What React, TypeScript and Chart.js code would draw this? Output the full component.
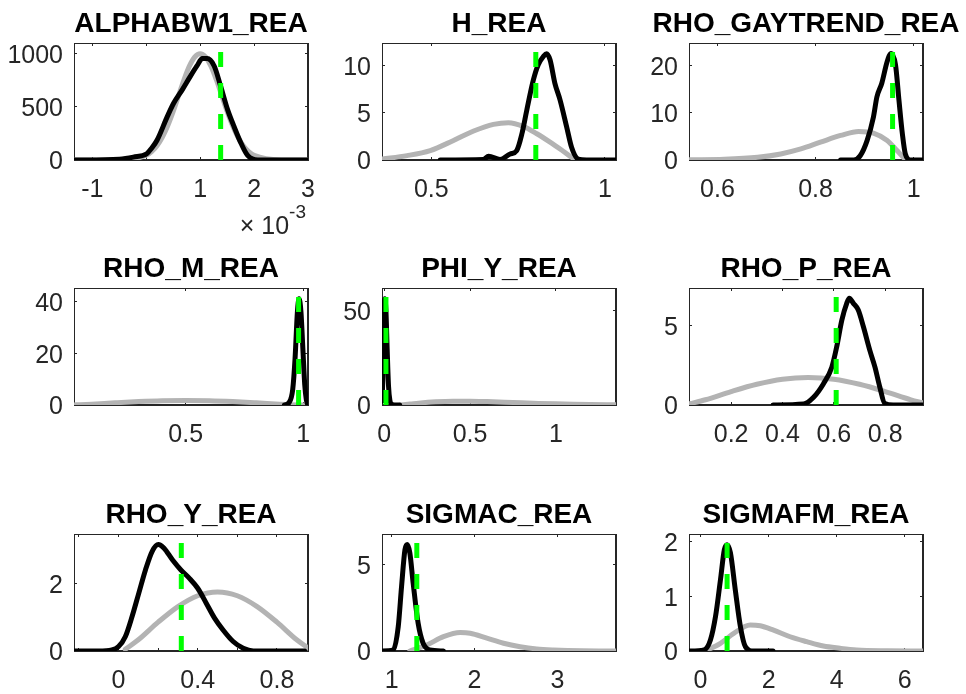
import React, { useEffect, useRef } from "react";
import { Chart, registerables } from "chart.js";

Chart.register(...registerables);

const FONT = '"Liberation Sans", Arial, Helvetica, sans-serif';

const panelTitles = [
  "ALPHABW1_REA", "H_REA", "RHO_GAYTREND_REA",
  "RHO_M_REA", "PHI_Y_REA", "RHO_P_REA",
  "RHO_Y_REA", "SIGMAC_REA", "SIGMAFM_REA",
];

// ALPHABW1_REA (x in units of 1e-3)
const alphaPriorX = [-1.34, -0.5, 0, 0.1, 0.2, 0.3, 0.4, 0.5, 0.6, 0.7, 0.8, 0.9, 1.0, 1.1, 1.2, 1.3, 1.4, 1.5, 1.6, 1.7, 1.8, 1.9, 2.0, 2.5, 3.0];
const alphaPriorY = [0, 1, 44, 79, 134, 215, 323, 455, 604, 751, 878, 964, 995, 964, 878, 751, 604, 455, 323, 215, 134, 79, 44, 1, 0];
const alphaPostX = [-1.34, -0.5, -0.24, 0.01, 0.1, 0.2, 0.39, 0.51, 0.67, 0.82, 0.94, 1.04, 1.13, 1.26, 1.38, 1.51, 1.63, 1.76, 1.88, 2.07, 2.2, 3.0];
const alphaPostY = [0, 8, 27, 59, 110, 185, 406, 533, 659, 785, 880, 950, 950, 880, 690, 469, 311, 154, 43, 0, 0, 0];

// H_REA
const hPriorX = [0.358, 0.43, 0.497, 0.564, 0.622, 0.679, 0.722, 0.765, 0.804, 0.842, 0.88, 0.908, 0.925];
const hPriorY = [0.1, 0.46, 1.0, 2.07, 3.07, 3.78, 3.96, 3.57, 2.78, 1.89, 0.93, 0.2, 0];
const hPostX = [0.526, 0.65, 0.665, 0.698, 0.727, 0.746, 0.761, 0.775, 0.794, 0.808, 0.823, 0.832, 0.842, 0.856, 0.871, 0.89, 0.904, 0.923, 0.947, 1.032];
const hPostY = [0, 0.05, 0.4, 0.05, 0.64, 1.0, 2.78, 5.28, 8.48, 10.09, 10.98, 11.27, 10.62, 8.13, 6.35, 3.49, 1.35, 0.1, 0, 0];

// RHO_GAYTREND_REA
const gayPriorX = [0.542, 0.614, 0.682, 0.729, 0.77, 0.81, 0.851, 0.888, 0.918, 0.946, 0.966, 0.979, 0.986];
const gayPriorY = [0.05, 0.15, 0.57, 1.28, 2.34, 3.76, 5.18, 6.03, 5.67, 4.11, 1.99, 0.57, 0];
const gayPostX = [0.851, 0.878, 0.891, 0.905, 0.918, 0.925, 0.935, 0.946, 0.954, 0.963, 0.97, 0.977, 0.983, 0.994, 1.019];
const gayPostY = [0, 0, 0.9, 4.1, 9.1, 13.3, 16.2, 20.8, 22.5, 20.1, 12.6, 5.5, 1.28, 0, 0];

// RHO_M_REA
const rhoMPriorX = [0.025, 0.05, 0.1, 0.2, 0.3, 0.4, 0.5, 0.6, 0.7, 0.8, 0.9, 0.95, 0.975, 1.0];
const rhoMPriorY = [0.04, 0.12, 0.33, 0.85, 1.31, 1.63, 1.74, 1.63, 1.31, 0.85, 0.33, 0.12, 0.04, 0];
const rhoMPostX = [0.92, 0.94, 0.955, 0.965, 0.975, 0.982, 0.99, 0.998, 1.006, 1.013, 1.02];
const rhoMPostY = [0, 1, 6, 18, 36, 41, 36, 22, 8, 2, 0];

// PHI_Y_REA
const phiPriorX = [0.093, 0.15, 0.2, 0.3, 0.4, 0.5, 0.6, 0.7, 0.8, 0.9, 1.0, 1.1, 1.2, 1.35];
const phiPriorY = [0, 0.5, 1.0, 1.7, 2.0, 2.0, 1.8, 1.5, 1.15, 0.85, 0.6, 0.4, 0.25, 0.12];
const phiPostX = [-0.013, -0.008, -0.003, 0.003, 0.01, 0.017, 0.025, 0.033, 0.045, 0.06, 0.09];
const phiPostY = [2, 15, 45, 56.5, 50, 30, 10, 2.5, 0.3, 0, 0];

// RHO_P_REA
const rhoPPriorX = [0.036, 0.1, 0.2, 0.3, 0.4, 0.5, 0.6, 0.7, 0.8, 0.9, 0.947];
const rhoPPriorY = [0.07, 0.33, 0.85, 1.31, 1.63, 1.74, 1.63, 1.31, 0.85, 0.33, 0.13];
const rhoPPostX = [0.363, 0.482, 0.521, 0.559, 0.592, 0.611, 0.631, 0.65, 0.66, 0.676, 0.695, 0.715, 0.74, 0.76, 0.779, 0.798, 0.831, 0.947];
const rhoPPostY = [0, 0.06, 0.49, 1.33, 2.39, 3.67, 5.36, 6.42, 6.74, 6.42, 6.0, 4.94, 3.45, 2.39, 1.12, 0.1, 0, 0];

// RHO_Y_REA
const rhoYPriorX = [0.034, 0.1, 0.2, 0.3, 0.4, 0.5, 0.6, 0.7, 0.8, 0.9, 0.957];
const rhoYPriorY = [0.05, 0.33, 0.85, 1.31, 1.63, 1.74, 1.63, 1.31, 0.85, 0.33, 0.09];
const rhoYPostX = [-0.225, -0.1, -0.034, 0, 0.034, 0.068, 0.102, 0.136, 0.17, 0.201, 0.23, 0.272, 0.315, 0.357, 0.4, 0.443, 0.485, 0.528, 0.579, 0.63, 0.681, 0.94];
const rhoYPostY = [0, 0, 0.03, 0.13, 0.42, 1.01, 1.7, 2.39, 2.94, 3.14, 3.03, 2.69, 2.39, 2.15, 1.85, 1.41, 0.97, 0.62, 0.28, 0.08, 0, 0];

// SIGMAC_REA
const sigCPriorX = [1.22, 1.425, 1.625, 1.827, 1.948, 2.149, 2.35, 2.55, 2.75, 2.95, 3.3, 3.707];
const sigCPriorY = [0, 0.35, 0.83, 1.07, 1.03, 0.74, 0.45, 0.25, 0.12, 0.06, 0.01, 0];
const sigCPostX = [0.884, 1.02, 1.08, 1.12, 1.161, 1.19, 1.22, 1.26, 1.32, 1.38, 1.46, 1.625];
const sigCPostY = [0, 0.06, 1.41, 3.74, 5.87, 6.17, 5.68, 3.93, 1.61, 0.45, 0.06, 0];

// SIGMAFM_REA
const sigFPriorX = [0.146, 0.585, 0.975, 1.46, 1.756, 2.146, 2.634, 3.12, 3.61, 4.1, 4.59, 5.5, 6.54];
const sigFPriorY = [0, 0.14, 0.32, 0.475, 0.46, 0.38, 0.26, 0.17, 0.09, 0.05, 0.02, 0.005, 0];
const sigFPostX = [-0.34, 0.1, 0.29, 0.44, 0.585, 0.7, 0.78, 0.878, 1.02, 1.17, 1.317, 1.56, 2.13];
const sigFPostY = [0, 0.02, 0.2, 0.63, 1.3, 1.85, 1.94, 1.79, 1.12, 0.45, 0.08, 0, 0];

// posterior modes (green dashed lines)
const modeValues = [1.38, 0.801, 0.957, 0.98, 0.01, 0.609, 0.317, 1.304, 0.78];

// axis limits
const xMinValues = [-1.34, 0.358, 0.542, 0.025, -0.013, 0.036, -0.225, 0.884, -0.34];
const xMaxValues = [3.0, 1.032, 1.019, 1.02, 1.35, 0.947, 0.957, 3.707, 6.54];
const yMaxValues = [1095, 12.4, 24.7, 45.1, 62.2, 7.39, 3.45, 6.78, 2.134];

// ticks
const xTickValues = [
  [-1, 0, 1, 2, 3], [0.5, 1], [0.6, 0.8, 1],
  [0.5, 1], [0, 0.5, 1], [0.2, 0.4, 0.6, 0.8],
  [-0.2, 0, 0.2, 0.4, 0.6, 0.8], [1, 2, 3], [0, 2, 4, 6],
];
const xTickLabels = [
  ["-1", "0", "1", "2", "3"], ["0.5", "1"], ["0.6", "0.8", "1"],
  ["0.5", "1"], ["0", "0.5", "1"], ["0.2", "0.4", "0.6", "0.8"],
  ["", "0", "", "0.4", "", "0.8"], ["1", "2", "3"], ["0", "2", "4", "6"],
];
const yTickValues = [
  [0, 500, 1000], [0, 5, 10], [0, 10, 20],
  [0, 20, 40], [0, 50], [0, 5],
  [0, 2], [0, 5], [0, 1, 2],
];
const yTickLabels = [
  ["0", "500", "1000"], ["0", "5", "10"], ["0", "10", "20"],
  ["0", "20", "40"], ["0", "50"], ["0", "5"],
  ["0", "2"], ["0", "5"], ["0", "1", "2"],
];
const xExponentLabels = ["-3", "", "", "", "", "", "", "", ""];

const priorXs = [alphaPriorX, hPriorX, gayPriorX, rhoMPriorX, phiPriorX, rhoPPriorX, rhoYPriorX, sigCPriorX, sigFPriorX];
const priorYs = [alphaPriorY, hPriorY, gayPriorY, rhoMPriorY, phiPriorY, rhoPPriorY, rhoYPriorY, sigCPriorY, sigFPriorY];
const postXs = [alphaPostX, hPostX, gayPostX, rhoMPostX, phiPostX, rhoPPostX, rhoYPostX, sigCPostX, sigFPostX];
const postYs = [alphaPostY, hPostY, gayPostY, rhoMPostY, phiPostY, rhoPPostY, rhoYPostY, sigCPostY, sigFPostY];

// layout
const PAD_L = 74, PAD_T = 43, PAD_R = 40, PAD_B = 80;
const AX_W = 234, AX_H = 117;
const COL_LEFT = [74, 382, 689];
const ROW_TOP = [43, 288, 534];
const AXIS_COLOR = "#262626";
const TICK_FONT = { family: FONT, size: 25 };

function toPoints(xs: number[], ys: number[]) {
  return xs.map((x, k) => ({ x, y: ys[k] }));
}

// Each axis (and its mirrored twin on the opposite side) with inward tick marks.
function frameScale(i: number, axis: "x" | "y", position: string, mirror: boolean) {
  const isX = axis === "x";
  const tickVals = isX ? xTickValues[i] : yTickValues[i];
  const labels = isX ? xTickLabels[i] : yTickLabels[i];
  return {
    type: "linear",
    axis,
    position,
    min: isX ? xMinValues[i] : 0,
    max: isX ? xMaxValues[i] : yMaxValues[i],
    display: true,
    grid: {
      display: true,
      drawOnChartArea: false,
      drawTicks: true,
      tickLength: -3,
      color: AXIS_COLOR,
      lineWidth: 1,
    },
    border: { display: true, color: AXIS_COLOR, width: 1 },
    ticks: {
      display: !mirror,
      font: TICK_FONT,
      color: AXIS_COLOR,
      padding: isX ? 18 : 14,
      labelOffset: isX ? 0 : 2.5,
      autoSkip: false,
      maxRotation: 0,
      minRotation: 0,
      callback: (_v: any, idx: number) => (mirror ? "" : labels[idx]),
    },
    afterBuildTicks: (s: any) => {
      s.ticks = tickVals.map((v) => ({ value: v }));
    },
    afterFit: (s: any) => {
      if (isX) {
        s.height = mirror ? 0 : PAD_B;
        s.paddingLeft = 0;
        s.paddingRight = 0;
      } else {
        s.width = mirror ? 0 : PAD_L;
        s.paddingTop = 0;
        s.paddingBottom = 0;
      }
    },
  };
}

function Panel({ i }: { i: number }) {
  const ref = useRef<HTMLCanvasElement>(null);
  const col = i % 3;
  const row = Math.floor(i / 3);
  const w = PAD_L + AX_W + PAD_R;
  const h = PAD_T + AX_H + PAD_B;

  useEffect(() => {
    const canvas = ref.current;
    if (!canvas) return;
    const title = panelTitles[i];
    const expo = xExponentLabels[i];

    const textPlugin: any = {
      id: "matlabText",
      afterDraw(chart: any) {
        const { ctx, chartArea: a } = chart;
        ctx.save();
        ctx.fillStyle = "#000";
        ctx.font = `bold 28px ${FONT}`;
        ctx.textAlign = "center";
        ctx.textBaseline = "alphabetic";
        ctx.fillText(title, (a.left + a.right) / 2, a.top - 11.5);
        if (expo) {
          ctx.fillStyle = AXIS_COLOR;
          ctx.textAlign = "right";
          ctx.font = `19px ${FONT}`;
          const expW = ctx.measureText(expo).width;
          ctx.fillText(expo, a.right - 2, a.bottom + 58);
          ctx.font = `25px ${FONT}`;
          ctx.fillText("\u00d7 10", a.right - 2 - expW, a.bottom + 73.5);
        }
        ctx.restore();
      },
    };

    const chart = new Chart(canvas, {
      type: "line",
      data: {
        datasets: [
          {
            data: [{ x: modeValues[i], y: 0 }, { x: modeValues[i], y: yMaxValues[i] }],
            borderColor: "#00ff00",
            borderWidth: 5,
            borderDash: [15, 16],
            pointRadius: 0,
            tension: 0,
          },
          {
            data: toPoints(postXs[i], postYs[i]),
            borderColor: "#000000",
            borderWidth: 5,
            pointRadius: 0,
            cubicInterpolationMode: "monotone",
            borderJoinStyle: "round",
            borderCapStyle: "round",
          },
          {
            data: toPoints(priorXs[i], priorYs[i]),
            borderColor: "#b3b3b3",
            borderWidth: 5,
            pointRadius: 0,
            cubicInterpolationMode: "monotone",
            borderJoinStyle: "round",
            borderCapStyle: "round",
          },
        ],
      } as any,
      options: {
        responsive: false,
        animation: false,
        devicePixelRatio: 1,
        layout: { padding: { left: 0, top: PAD_T, right: PAD_R, bottom: 0 } },
        plugins: {
          legend: { display: false },
          tooltip: { enabled: false },
          title: { display: false },
        },
        scales: {
          x: frameScale(i, "x", "bottom", false),
          x2: frameScale(i, "x", "top", true),
          y: frameScale(i, "y", "left", false),
          y2: frameScale(i, "y", "right", true),
        },
      } as any,
      plugins: [textPlugin],
    });
    return () => chart.destroy();
  }, [i]);

  return (
    <canvas
      ref={ref}
      width={w}
      height={h}
      style={{
        position: "absolute",
        left: COL_LEFT[col] - PAD_L,
        top: ROW_TOP[row] - PAD_T,
        width: w,
        height: h,
      }}
    />
  );
}

function Frame({ i }: { i: number }) {
  const col = i % 3;
  const row = Math.floor(i / 3);
  return (
    <div
      style={{
        position: "absolute",
        left: COL_LEFT[col],
        top: ROW_TOP[row],
        width: AX_W,
        height: AX_H,
        boxSizing: "border-box",
        border: `1px solid ${AXIS_COLOR}`,
        pointerEvents: "none",
      }}
    />
  );
}

export default function App() {
  return (
    <div
      style={{
        position: "absolute",
        left: 0,
        top: 0,
        width: 966,
        height: 694,
        overflow: "hidden",
        background: "#ffffff",
      }}
    >
      {panelTitles.map((_, i) => (
        <Frame key={"f" + i} i={i} />
      ))}
      {panelTitles.map((_, i) => (
        <Panel key={i} i={i} />
      ))}
    </div>
  );
}
